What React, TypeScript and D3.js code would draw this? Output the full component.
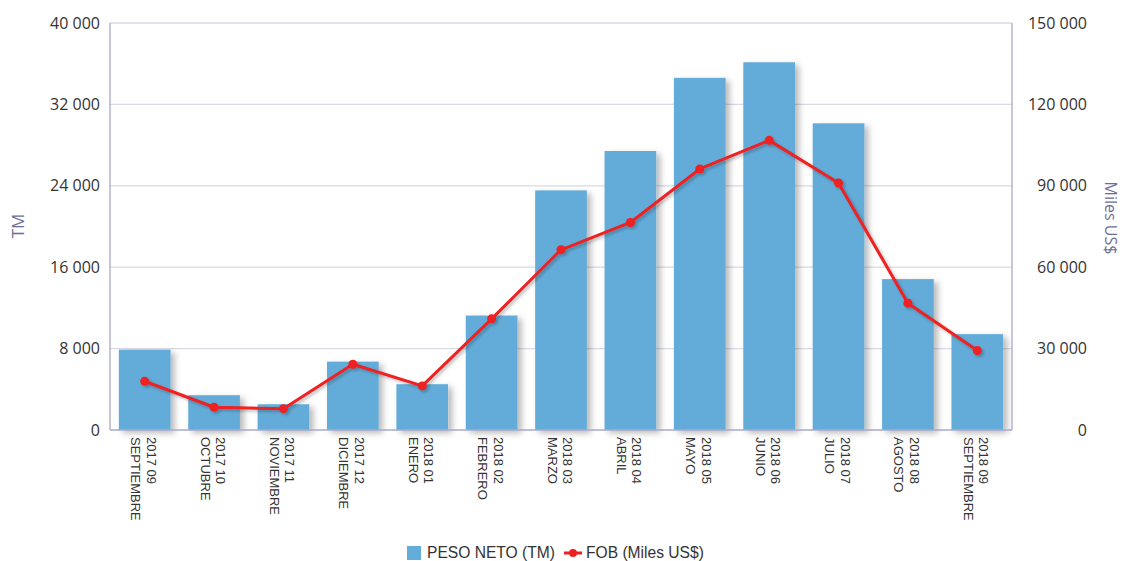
import React from "react";
import * as d3 from "d3";

const categoriesTop = ["2017 09", "2017 10", "2017 11", "2017 12", "2018 01", "2018 02", "2018 03", "2018 04", "2018 05", "2018 06", "2018 07", "2018 08", "2018 09"];
const categoriesBottom = ["SEPTIEMBRE", "OCTUBRE", "NOVIEMBRE", "DICIEMBRE", "ENERO", "FEBRERO", "MARZO", "ABRIL", "MAYO", "JUNIO", "JULIO", "AGOSTO", "SEPTIEMBRE"];
const pesoNeto = [7900, 3420, 2530, 6720, 4500, 11250, 23550, 27420, 34610, 36140, 30140, 14830, 9420];
const fob = [17970, 8380, 7860, 24240, 16240, 40960, 66420, 76490, 96200, 106750, 91030, 46750, 29260];
const leftTicks = [0, 8000, 16000, 24000, 32000, 40000];
const rightTicks = [0, 30000, 60000, 90000, 120000, 150000];

const W = 1123, H = 561;
const M = { left: 110, right: 1012, top: 23, bottom: 430 };

const locale = d3.formatLocale({ decimal: ",", thousands: "\u00a0", grouping: [3], currency: ["", ""] });
const fmt = locale.format(",d");

export default function App() {
  const x = d3.scaleBand<number>().domain(d3.range(categoriesTop.length)).range([M.left, M.right]).paddingInner(0.255).paddingOuter(0.1275);
  const yL = d3.scaleLinear().domain([0, 40000]).range([M.bottom, M.top]);
  const yR = d3.scaleLinear().domain([0, 150000]).range([M.bottom, M.top]);
  const line = d3.line<number>().x((_, i) => (x(i) as number) + x.bandwidth() / 2).y((d) => yR(d));
  const axisColor = "#a9a9c8";
  const gridColor = "#d9d9e8";
  const tickFont = "'Open Sans', sans-serif";
  return (
    <svg width={W} height={H} style={{ position: "absolute", left: 0, top: 0, background: "#fff" }}>
      <defs>
        <filter id="shadow" x="-20%" y="-20%" width="150%" height="150%">
          <feDropShadow dx="4" dy="3" stdDeviation="3" floodColor="#000" floodOpacity="0.28" />
        </filter>
        <filter id="lshadow" x="-10%" y="-10%" width="120%" height="130%">
          <feDropShadow dx="2" dy="2" stdDeviation="1.5" floodColor="#000" floodOpacity="0.25" />
        </filter>
      </defs>
      {leftTicks.slice(1).map((t) => (
        <line key={t} x1={M.left} x2={M.right} y1={yL(t)} y2={yL(t)} stroke={gridColor} strokeWidth={1.3} />
      ))}
      {pesoNeto.map((v, i) => (
        <rect key={i} x={x(i)} y={yL(v)} width={x.bandwidth()} height={yL(0) - yL(v)} fill="#64acd9" filter="url(#shadow)" />
      ))}
      <line x1={M.left} x2={M.left} y1={M.top} y2={M.bottom} stroke={axisColor} strokeWidth={1.3} />
      <line x1={M.right} x2={M.right} y1={M.top} y2={M.bottom} stroke={axisColor} strokeWidth={1.3} />
      <line x1={M.left} x2={M.right} y1={M.bottom} y2={M.bottom} stroke={axisColor} strokeWidth={1.3} />
      <g filter="url(#lshadow)">
        <path d={line(fob) as string} fill="none" stroke="#ee2020" strokeWidth={3} strokeLinejoin="round" />
        {fob.map((v, i) => (
          <circle key={i} cx={(x(i) as number) + x.bandwidth() / 2} cy={yR(v)} r={4.5} fill="#ee2020" />
        ))}
      </g>
      {leftTicks.map((t) => (
        <text key={t} x={100} y={yL(t)} dy="0.35em" textAnchor="end" fontFamily={tickFont} fontSize={16} fill="#333">{fmt(t)}</text>
      ))}
      {rightTicks.map((t) => (
        <text key={t} x={1087} y={yR(t)} dy="0.35em" textAnchor="end" fontFamily={tickFont} fontSize={16} fill="#333">{fmt(t)}</text>
      ))}
      <text transform={`translate(24,226) rotate(-90)`} textAnchor="middle" fontFamily={tickFont} fontSize={17} fill="#6d6d99">TM</text>
      <text transform={`translate(1105,218) rotate(90)`} textAnchor="middle" fontFamily={tickFont} fontSize={16} fill="#6d6d99">Miles US$</text>
      {categoriesTop.map((c, i) => {
        const cx = (x(i) as number) + x.bandwidth() / 2;
        return (
          <text key={i} transform={`translate(${cx},437) rotate(90)`} fontFamily="'Liberation Sans', Arial, sans-serif" fontSize={13} fill="#333">
            <tspan x={0} y={-2}>{c}</tspan>
            <tspan x={0} y={13.5}>{categoriesBottom[i]}</tspan>
          </text>
        );
      })}
      <g fontFamily="'Liberation Sans', Arial, sans-serif" fontSize={15.6} fill="#333">
        <rect x={407} y={546} width={14} height={14} fill="#64acd9" />
        <text x={427} y={558}>PESO NETO (TM)</text>
        <line x1={564} x2={582} y1={553} y2={553} stroke="#ee2020" strokeWidth={3} />
        <circle cx={573} cy={553} r={4} fill="#ee2020" />
        <text x={586} y={558}>FOB (Miles US$)</text>
      </g>
    </svg>
  );
}
